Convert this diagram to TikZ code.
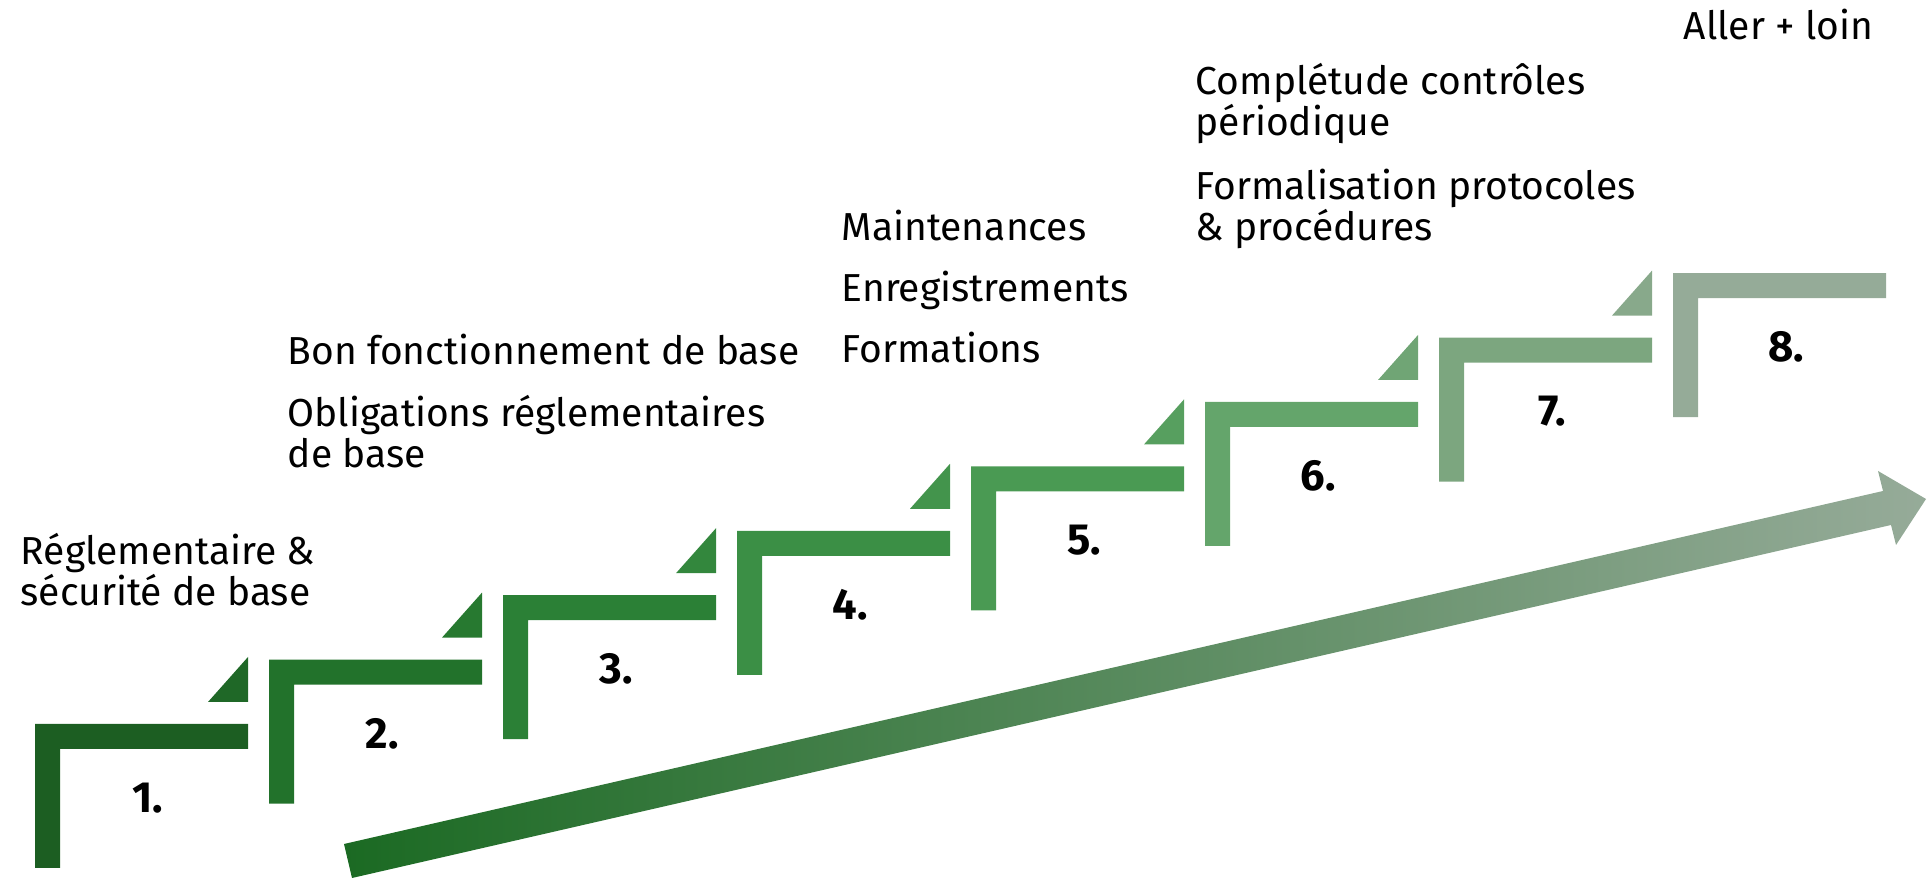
\documentclass[tikz,border=0pt]{standalone}
\usepackage{fontspec}
\setmainfont{Fira Sans}
\usepackage{xcolor}
\usepackage{tikz}
\usetikzlibrary{shapes}
\definecolor{stepA}{HTML}{1C5E22}
\definecolor{stepB}{HTML}{22722B}
\definecolor{stepC}{HTML}{2B8036}
\definecolor{stepD}{HTML}{3B8F45}
\definecolor{stepE}{HTML}{4A9A53}
\definecolor{stepF}{HTML}{64A56B}
\definecolor{stepG}{HTML}{7CA67F}
\definecolor{stepH}{HTML}{95AB98}
\definecolor{arrowL}{HTML}{1B6A23}
\definecolor{arrowR}{HTML}{96AB99}
\tikzset{
	num node/.style={font=\fontsize{12.4}{14}\selectfont\bfseries,inner sep=0pt},
	txt node/.style={font=\fontsize{11.1}{11.7}\selectfont,align=left,anchor=base west,inner sep=0pt}
}

\begin{document}
\begin{tikzpicture}[x=0.1mm,y=-0.1mm]
	\useasboundingbox (0,0) rectangle (1930,878);
	% big arrow
	\shade[left color=arrowL,right color=arrowR] (344,844) -- (1883,491) -- (1878,471) -- (1926,499)
		-- (1896,545) -- (1891,525) -- (352,878) -- cycle;
	% stairs
	\foreach \k/\col/\nxt in {1/stepA/stepB,2/stepB/stepC,3/stepC/stepD,4/stepD/stepE,
			5/stepE/stepF,6/stepF/stepG,7/stepG/stepH,8/stepH/none}{
		\pgfmathsetmacro{\xa}{35+234*(\k-1)}
		\pgfmathsetmacro{\ya}{724-64.4*(\k-1)}
		\fill[\col] (\xa,\ya) -- ++(213,0) -- ++(0,25) -- ++(-188,0) -- ++(0,119) -- ++(-25,0) -- cycle;
		\ifnum\k<8
			\fill[\col!50!\nxt] (\xa+213,\ya-67) -- ++(0,45) -- ++(-40,0) -- cycle;
		\fi
		\node[num node] (n\k) at (\xa+113,\ya+74) {\k.};
	}
	% texts (base = last line)
	\node[txt node] (t1) at (20,606) {Réglementaire \&\\sécurité de base};
	\node[txt node] (t2) at (287,365) {Bon fonctionnement de base};
	\node[txt node] (t3) at (287,468) {Obligations réglementaires\\de base};
	\node[txt node] (t4) at (841,241) {Maintenances};
	\node[txt node] (t5) at (841,302) {Enregistrements};
	\node[txt node] (t6) at (841,363) {Formations};
	\node[txt node] (t7) at (1195,136) {Complétude contrôles\\périodique};
	\node[txt node] (t8) at (1195,241) {Formalisation protocoles\\\& procédures};
	\node[txt node] (t9) at (1683,40) {Aller + loin};
\end{tikzpicture}
\end{document}
